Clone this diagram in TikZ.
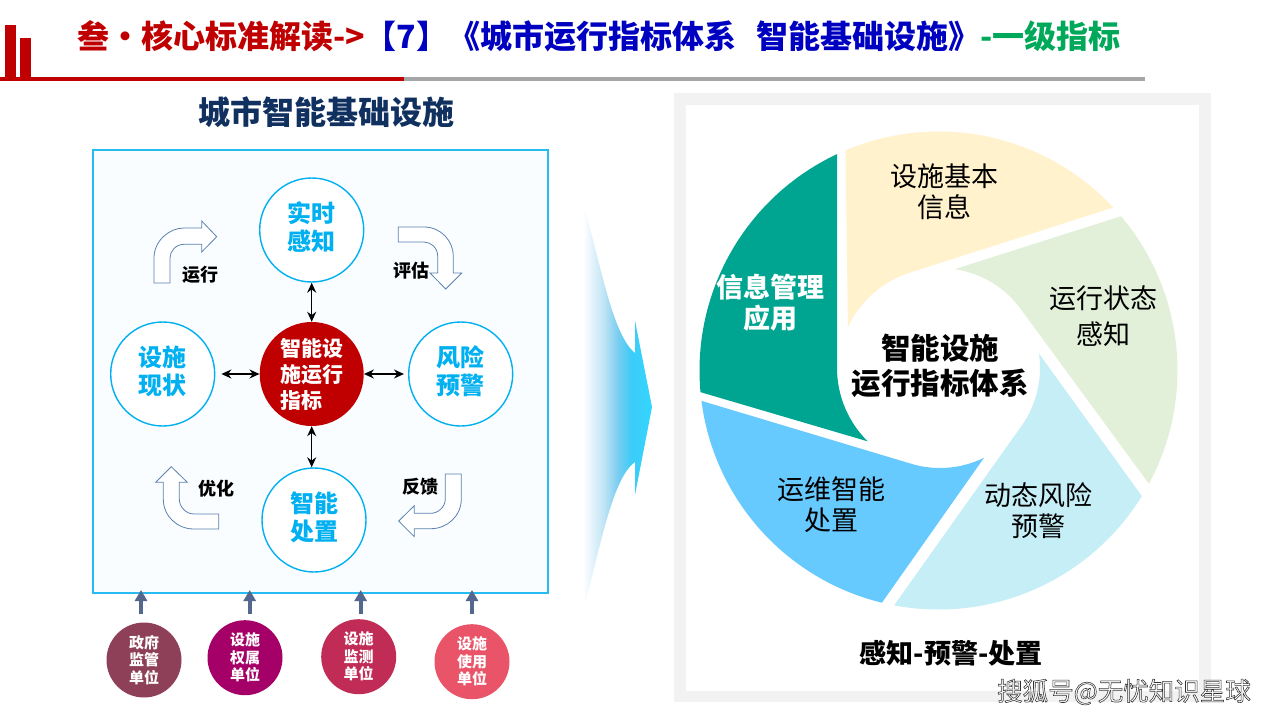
\documentclass[tikz,border=0pt]{standalone}
\usepackage{fontspec}
\setmainfont{Noto Sans CJK SC}
\newfontfamily\wmfont[FakeBold=2.2]{Noto Sans CJK SC}
\usetikzlibrary{arrows.meta,calc}
\definecolor{cred}{HTML}{C00000}
\definecolor{ctitleblue}{HTML}{0000C0}
\definecolor{ctitlegreen}{HTML}{00A85A}
\definecolor{cnavy}{HTML}{10305F}
\definecolor{csky}{HTML}{00B0F0}
\definecolor{cbent}{HTML}{5B82B0}
\definecolor{cup}{HTML}{54678C}
\definecolor{sa}{HTML}{C0E4F5}
\definecolor{sb}{HTML}{7BCDF0}
\definecolor{sc}{HTML}{3CCCF8}
\definecolor{sd}{HTML}{33D6FF}
\definecolor{ua}{HTML}{8E4058}
\definecolor{ub}{HTML}{A40068}
\definecolor{uc}{HTML}{C02C55}
\definecolor{ud}{HTML}{E95468}
\definecolor{pyellow}{HTML}{FFF2CC}
\definecolor{pgreen}{HTML}{E2F0D9}
\definecolor{pcyan}{HTML}{C5EEF6}
\definecolor{pblue}{HTML}{66CAFF}
\definecolor{pteal}{HTML}{00A591}
\pgfdeclarehorizontalshading{bigarrow}{100bp}{color(0bp)=(white);color(25bp)=(white);color(40bp)=(sa);color(50bp)=(sb);color(60bp)=(sc);color(75bp)=(sd);color(100bp)=(sd)}
\newcommand{\fsz}[2]{\fontsize{#1}{#2}\selectfont}
\tikzset{
  ring/.style={circle,draw=csky,line width=1.4pt,fill=white,minimum size=104pt,inner sep=0pt,align=center,text=csky,text depth=7pt,font=\fsz{24}{28}\bfseries},
  hub/.style={circle,fill=cred,minimum size=104pt,inner sep=0pt,align=left,text=white,font=\fsz{21}{26}\bfseries},
  unitdot/.style={circle,minimum size=75pt,inner sep=0pt,align=center,text=white,font=\fsz{15}{17.5}\bfseries},
  bent/.style={draw=cbent,line width=0.8pt,fill=white},
  biarrow/.style={line width=1.5pt,black,{Stealth[length=10pt,width=9pt]}-{Stealth[length=10pt,width=9pt]}},
  uparrow/.style={line width=4pt,cup,-{Triangle[length=11pt,width=12pt]}},
  steplabel/.style={inner sep=0pt,text=black,font=\fsz{18}{20}\bfseries},
  pielabel/.style={inner sep=0pt,align=center,text=black,font=\fsz{27}{31}},
}
\begin{document}
\begin{tikzpicture}[x=1pt,y=-1pt]
\useasboundingbox (0,0) rectangle (1280,720);
\fill[white] (0,0) rectangle (1280,720);
% header
\fill[cred] (5,25) rectangle (15.5,77);
\fill[cred] (20,38) rectangle (31,77);
\fill[cred] (0,76.5) rectangle (404,81);
\fill[black!35] (404,76.5) rectangle (1145,81);
\node[anchor=west,inner sep=0pt,font=\fsz{32}{36}\bfseries] (title) at (77,36)
 {\textcolor{cred}{叁·核心标准解读->}\textcolor{ctitleblue}{【7】《城市运行指标体系\hspace{20pt}智能基础设施》}\textcolor{ctitlegreen}{-一级指标}};
\node[inner sep=0pt,text=cnavy,font=\fsz{32}{36}\bfseries] (lefttitle) at (326,112) {城市智能基础设施};
% left panel
\node[draw=csky!85,line width=1.5pt,fill=csky!2,minimum width=455pt,minimum height=443pt,inner sep=0pt] (panel) at (320.5,371.5) {};
\node[ring] (top) at (311.7,230) {实时\\感知};
\node[ring] (left) at (162.7,374) {设施\\现状};
\node[ring] (right) at (460.7,374) {风险\\预警};
\node[ring] (bot) at (314,520) {智能\\处置};
\node[hub] (hub) at (311.7,374) {智能设\\施运行\\指标};
\draw[biarrow] (top) -- (hub);
\draw[biarrow,shorten <=6pt] (left) -- (hub);
\draw[biarrow,shorten >=4pt] (hub) -- (right);
\draw[biarrow] (hub.south) -- (hub.south |- bot.north);
% bent arrows
\draw[bent] (154,283) -- (154,258) .. controls (154,241) and (169,228) .. (184,228) -- (201.7,228) -- (201.7,221) -- (216.7,236.7) -- (201.7,252) -- (201.7,244.3) -- (184,244.3) .. controls (176,244.3) and (170,251) .. (170,258) -- (170,283) -- cycle;
\draw[bent] (398.3,227) -- (424,227) .. controls (441,227) and (453.3,241) .. (453.3,256) -- (453.3,273) -- (461.7,273) -- (445.7,289) -- (430,273) -- (437.7,273) -- (437.7,256) .. controls (437.7,248) and (431,242) .. (424,242) -- (398.3,242) -- cycle;
\draw[bent] (218.7,514) -- (194,514) .. controls (186,514) and (179.3,507) .. (179.3,499) -- (179.3,482.3) -- (187.3,482.3) -- (171.3,466.7) -- (155.7,482.3) -- (163.3,482.3) -- (163.3,499) .. controls (163.3,516) and (177,529) .. (194,529) -- (218.7,529) -- cycle;
\draw[bent] (445.3,474) -- (445.3,499) .. controls (445.3,507) and (438,513.3) .. (431,513.3) -- (414.3,513.3) -- (414.3,505.7) -- (398.7,521) -- (414.3,536.7) -- (414.3,528.7) -- (431,528.7) .. controls (447,528.7) and (461.3,516) .. (461.3,499) -- (461.3,474) -- cycle;
\node[steplabel] (lrun) at (200,275) {运行};
\node[steplabel] (leval) at (411.7,271) {评估};
\node[steplabel] (lopt) at (216,488.7) {优化};
\node[steplabel] (lfb) at (420.7,487) {反馈};
% stakeholder units
\node[unitdot,fill=ua] (u1) at (144,660) {政府\\监管\\单位};
\node[unitdot,fill=ub] (u2) at (245,657.7) {设施\\权属\\单位};
\node[unitdot,fill=uc] (u3) at (358.7,656.7) {设施\\监测\\单位};
\node[unitdot,fill=ud] (u4) at (472,661.7) {设施\\使用\\单位};
\foreach \i/\x in {1/141,2/249.7,3/360.7,4/472}{
  \coordinate (as\i) at (\x,614);
  \coordinate (ae\i) at (\x,590);
  \draw[uparrow] (as\i) -- (ae\i);
}
% big arrow
\shade[shading=bigarrow] (583,203) .. controls (600,260) and (612,335) .. (635,353) -- (635,320.7) -- (652,407) -- (635,495) -- (635,462) .. controls (612,478) and (600,550) .. (583,610) -- cycle;
% right panel
\fill[black!5] (674,93) rectangle (1211,702);
\fill[white] (686,105) rectangle (1199,690.5);
\coordinate (O) at (938.5,370.5);
\coordinate (I) at (940,368);
% yellow
\fill[pyellow] ($(O)+(-112.9:239)$) arc[start angle=-112.9,end angle=-43,radius=239] -- ($(I)+(-107.9:100)$) arc[start angle=-107.9,end angle=-155.3,radius=102] -- cycle;
% green
\fill[pgreen] ($(O)+(-40.2:239)$) arc[start angle=-40.2,end angle=28.3,radius=239] -- ($(I)+(-36:100)$) arc[start angle=-36,end angle=-81.5,radius=100] -- cycle;
% cyan
\fill[pcyan] ($(O)+(31.7:239)$) arc[start angle=31.7,end angle=100.7,radius=239] -- ($(I)+(35.3:100)$) arc[start angle=35.3,end angle=-8.3,radius=100] -- cycle;
% blue
\fill[pblue] ($(O)+(103.7:239)$) arc[start angle=103.7,end angle=172.7,radius=239] -- ($(I)+(106.5:100)$) arc[start angle=106.5,end angle=63.9,radius=100] -- cycle;
% teal
\fill[pteal] ($(O)+(174.8:239)$) arc[start angle=174.8,end angle=244.9,radius=239] -- (837,368) arc[start angle=180,end angle=134.6,radius=103] -- cycle;
\node[pielabel] (p1) at (944,191.5) {设施基本\\信息};
\node[pielabel,font=\fsz{27}{36}] (p2) at (1103,316) {运行状态\\感知};
\node[pielabel] (p3) at (1038,511) {动态风险\\预警};
\node[pielabel] (p4) at (831,504.5) {运维智能\\处置};
\node[pielabel,text=white,font=\fsz{27}{31}\bfseries] (p5) at (770,302.5) {信息管理\\应用};
\node[pielabel,font=\fsz{29.5}{35}\bfseries] (pc) at (940,365.5) {智能设施\\运行指标体系};
\node[inner sep=0pt,text=black,font=\fsz{27}{30}\bfseries] (slogan) at (951,653) {感知-预警-处置};
\node[inner sep=0pt,anchor=east] (wm) at (1251,692) {\fsz{25.5}{28}\wmfont\color{white}\special{pdf:code 0.2 0.2 0.2 RG}搜狐号@无忧知识星球};
\end{tikzpicture}
\end{document}
